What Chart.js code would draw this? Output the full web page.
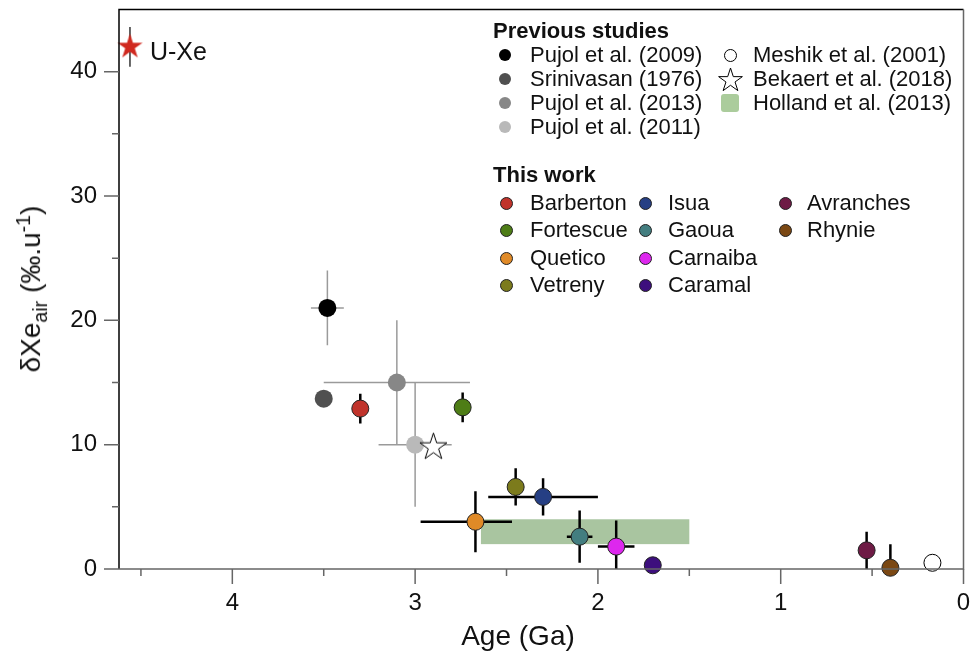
<!DOCTYPE html>
<html>
<head>
<meta charset="utf-8">
<script src="https://cdn.jsdelivr.net/npm/chart.js@4.4.1/dist/chart.umd.min.js"></script>
<style>
    body { margin: 0; background: #fff; }
    #wrap { position: relative; width: 973px; height: 655px; font-family: "Liberation Sans", Arial, sans-serif; color: #111; }
    #chart { position: absolute; left: 0; top: 0; }
    .lg { position: absolute; font-size: 22px; line-height: 26px; white-space: nowrap; }
    .lg.title { font-weight: bold; }
    .mk { position: absolute; box-sizing: border-box; }
    #ytitle { position: absolute; left: 32px; top: 289px; font-size: 28px; white-space: nowrap; transform: translate(-50%, -50%) rotate(-90deg); }
    #ytitle sub, #ytitle sup { font-size: 70%; }
    #xtitle { position: absolute; left: 518px; top: 636px; font-size: 28px; transform: translate(-50%, -50%); white-space: nowrap; }
</style>
</head>
<body>
<div id="wrap">
    <canvas id="chart" width="973" height="655"></canvas>
    <div id="legend"></div>
    <div id="ytitle">δXe<sub>air</sub> (‰.u<sup>-1</sup>)</div>
    <div id="xtitle">Age (Ga)</div>
</div>
<script>
// Axes
const xTicks = [0, 1, 2, 3, 4];
const xMinorTicks = [0.5, 1.5, 2.5, 3.5, 4.5];
const yTicks = [0, 10, 20, 30, 40];
const yMinorTicks = [5, 15, 25, 35];

// Previous studies
const prevNames = ['Pujol et al. (2009)', 'Srinivasan (1976)', 'Pujol et al. (2013)', 'Pujol et al. (2011)'];
const prevAge = [3.48, 3.50, 3.10, 3.00];
const prevDXe = [21.0, 13.7, 15.0, 10.0];
const prevAgeErr = [0.09, 0, 0.40, 0.20];
const prevDXeErr = [3.0, 0, 5.0, 5.0];

const meshikAge = [0.17];
const meshikDXe = [0.5];
const bekaertAge = [2.90];
const bekaertDXe = [9.8];
const hollandAge = [1.50, 2.64];
const hollandDXe = [2.0, 4.0];

const uxeAge = [4.56];
const uxeDXe = [42.0];
const uxeDXeErr = [1.6];

// This work
const workNames = ['Barberton', 'Fortescue', 'Quetico', 'Vetreny', 'Isua', 'Gaoua', 'Carnaiba', 'Caramal', 'Avranches', 'Rhynie'];
const workAge = [3.30, 2.74, 2.67, 2.45, 2.30, 2.10, 1.90, 1.70, 0.53, 0.40];
const workDXe = [12.9, 13.0, 3.8, 6.6, 5.8, 2.6, 1.8, 0.3, 1.5, 0.1];
const workAgeOld = [0, 0, 0.30, 0, 0.30, 0.07, 0.10, 0, 0, 0];
const workAgeYoung = [0, 0, 0.20, 0, 0.30, 0.07, 0.10, 0, 0, 0];
const workDXeErr = [1.2, 1.2, 2.45, 1.5, 1.5, 2.1, 2.1, 0, 1.5, 1.9];

// couleurs
const prevColors = ['#000000', '#505050', '#878787', '#b9b9b9'];
const workColors = ['#c0332b', '#4e7d16', '#e08a27', '#7c7b1c', '#263f84', '#437e80', '#dd27ee', '#3d0f7d', '#6e1b45', '#7b4813'];
const hollandColor = '#a9c5a0';

const FONT = '"Liberation Sans", Arial, sans-serif';
Chart.defaults.font.family = FONT;

function makeStar(R, fill, stroke, lw) {
    const c = document.createElement('canvas');
    c.width = c.height = Math.ceil(2 * R + 4);
    const g = c.getContext('2d');
    const cx = c.width / 2, cy = c.height / 2;
    g.beginPath();
    for (let i = 0; i < 10; i++) {
        const r = i % 2 ? R * 0.382 : R;
        const a = -Math.PI / 2 + i * Math.PI / 5;
        g.lineTo(cx + r * Math.cos(a), cy + r * Math.sin(a));
    }
    g.closePath();
    g.fillStyle = fill;
    g.fill();
    if (stroke) {
        g.strokeStyle = stroke;
        g.lineWidth = lw;
        g.stroke();
    }
    return c;
}

const toPts = (xs, ys) => xs.map((v, i) => ({ x: v, y: ys[i] }));

// Barres d'erreur + rectangle Holland
const errorBars = {
    id: 'errorBars',
    beforeDatasetsDraw(chart) {
        const { ctx, chartArea: a, scales: { x, y } } = chart;
        ctx.save();
        ctx.beginPath();
        ctx.rect(a.left, a.top, a.width, a.height);
        ctx.clip();

        const hx0 = x.getPixelForValue(hollandAge[1]), hx1 = x.getPixelForValue(hollandAge[0]);
        const hy0 = y.getPixelForValue(hollandDXe[1]), hy1 = y.getPixelForValue(hollandDXe[0]);
        ctx.fillStyle = hollandColor;
        ctx.fillRect(hx0, hy0, hx1 - hx0, hy1 - hy0);

        const bar = (age, val, old, young, dv, color, lw) => {
            ctx.strokeStyle = color;
            ctx.lineWidth = lw;
            const px = x.getPixelForValue(age), py = y.getPixelForValue(val);
            ctx.beginPath();
            if (old || young) {
                ctx.moveTo(x.getPixelForValue(age + old), py);
                ctx.lineTo(x.getPixelForValue(age - young), py);
            }
            if (dv) {
                ctx.moveTo(px, y.getPixelForValue(val + dv));
                ctx.lineTo(px, y.getPixelForValue(val - dv));
            }
            ctx.stroke();
        };
        prevAge.forEach((v, i) => bar(v, prevDXe[i], prevAgeErr[i], prevAgeErr[i], prevDXeErr[i], '#9a9a9a', 1.5));
        bar(uxeAge[0], uxeDXe[0], 0, 0, uxeDXeErr[0], '#333', 1.5);
        workAge.forEach((v, i) => bar(v, workDXe[i], workAgeOld[i], workAgeYoung[i], workDXeErr[i], '#000', 2.5));
        ctx.restore();
    }
};

// Cadre, graduations et étiquette U-Xe
const frame = {
    id: 'frame',
    afterDatasetsDraw(chart) {
        const { ctx, chartArea: a, scales: { x, y } } = chart;
        ctx.save();
        ctx.lineWidth = 1.5;
        ctx.strokeStyle = '#000';
        ctx.beginPath();
        ctx.moveTo(a.left, a.bottom);
        ctx.lineTo(a.left, a.top);
        ctx.lineTo(a.right, a.top);
        ctx.stroke();
        ctx.strokeStyle = '#666';
        ctx.beginPath();
        ctx.moveTo(a.left, a.bottom);
        ctx.lineTo(a.right, a.bottom);
        ctx.lineTo(a.right, a.top);
        ctx.stroke();

        ctx.beginPath();
        xTicks.forEach(v => { const px = x.getPixelForValue(v); ctx.moveTo(px, a.bottom); ctx.lineTo(px, a.bottom + 15); });
        xMinorTicks.forEach(v => { const px = x.getPixelForValue(v); ctx.moveTo(px, a.bottom); ctx.lineTo(px, a.bottom + 7); });
        yTicks.forEach(v => { const py = y.getPixelForValue(v); ctx.moveTo(a.left, py); ctx.lineTo(a.left - 15, py); });
        yMinorTicks.forEach(v => { const py = y.getPixelForValue(v); ctx.moveTo(a.left, py); ctx.lineTo(a.left - 7, py); });
        ctx.stroke();

        ctx.fillStyle = '#111';
        ctx.font = '25px ' + FONT;
        ctx.textBaseline = 'middle';
        ctx.fillText('U-Xe', x.getPixelForValue(uxeAge[0]) + 20, y.getPixelForValue(uxeDXe[0]) + 6);
        ctx.restore();
    }
};

const bekaertStar = makeStar(14.2, '#fff', '#000', 1);
const uxeStar = makeStar(13.2, '#d0291f');

new Chart(document.getElementById('chart'), {
    type: 'scatter',
    data: {
        datasets: [
            { label: 'U-Xe', data: toPts(uxeAge, uxeDXe), pointStyle: uxeStar, clip: false },
            { label: 'Bekaert et al. (2018)', data: toPts(bekaertAge, bekaertDXe), pointStyle: bekaertStar, clip: false },
            { label: 'Meshik et al. (2001)', data: toPts(meshikAge, meshikDXe), pointRadius: 8.5, backgroundColor: '#fff', borderColor: '#000', borderWidth: 1, clip: false },
            { label: 'Previous studies', data: toPts(prevAge, prevDXe), pointRadius: 9, backgroundColor: prevColors, borderWidth: 0, clip: false },
            { label: 'This work', data: toPts(workAge, workDXe), pointRadius: 8.5, backgroundColor: workColors, borderColor: '#222', borderWidth: 1, clip: false }
        ]
    },
    options: {
        responsive: false,
        animation: false,
        events: [],
        layout: { padding: { top: 8, right: 8, left: 0, bottom: 0 } },
        plugins: { legend: { display: false }, tooltip: { enabled: false } },
        scales: {
            x: {
                type: 'linear',
                min: 0,
                max: 4.62,
                reverse: true,
                grid: { display: false, drawTicks: false },
                border: { display: false },
                afterBuildTicks: s => { s.ticks = xTicks.map(v => ({ value: v })); },
                afterFit: s => { s.height = 86; s.paddingLeft = 0; s.paddingRight = 0; },
                ticks: { font: { size: 24 }, color: '#111', padding: 20, maxRotation: 0 }
            },
            y: {
                type: 'linear',
                min: 0,
                max: 45,
                grid: { display: false, drawTicks: false },
                border: { display: false },
                afterBuildTicks: s => { s.ticks = yTicks.map(v => ({ value: v })); },
                afterFit: s => { s.width = 119; s.paddingTop = 0; s.paddingBottom = 0; },
                ticks: { font: { size: 24 }, color: '#111', padding: 22 }
            }
        }
    },
    plugins: [errorBars, frame]
});

// Légende
const legend = document.getElementById('legend');
function addText(txt, left, cy, cls) {
    const d = document.createElement('div');
    d.className = 'lg' + (cls ? ' ' + cls : '');
    d.textContent = txt;
    d.style.left = left + 'px';
    d.style.top = (cy - 13) + 'px';
    legend.appendChild(d);
}
function addDot(cx, cy, size, fill, border) {
    const d = document.createElement('div');
    d.className = 'mk';
    d.style.left = (cx - size / 2) + 'px';
    d.style.top = (cy - size / 2) + 'px';
    d.style.width = size + 'px';
    d.style.height = size + 'px';
    d.style.borderRadius = '50%';
    d.style.background = fill;
    if (border) d.style.border = '1px solid ' + border;
    legend.appendChild(d);
}

addText('Previous studies', 493, 31, 'title');
const prevRows = [55, 79, 103, 127];
prevNames.forEach((n, i) => {
    addDot(505, prevRows[i], 12, prevColors[i]);
    addText(n, 530, prevRows[i]);
});
addDot(730, prevRows[0], 13, '#fff', '#000');
addText('Meshik et al. (2001)', 753, prevRows[0]);
const ls = makeStar(12.5, '#fff', '#000', 1);
ls.className = 'mk';
ls.style.left = (730 - ls.width / 2) + 'px';
ls.style.top = (prevRows[1] + 1 - ls.height / 2) + 'px';
legend.appendChild(ls);
addText('Bekaert et al. (2018)', 753, prevRows[1]);
const sq = document.createElement('div');
sq.className = 'mk';
Object.assign(sq.style, { left: '721px', top: (prevRows[2] - 9) + 'px', width: '18px', height: '18px', borderRadius: '3px', background: '#abcc9c' });
legend.appendChild(sq);
addText('Holland et al. (2013)', 753, prevRows[2]);

addText('This work', 493, 175, 'title');
const workRows = [203, 230, 258, 285];
const workCols = [[506, 530], [645, 668], [785, 807]];
workNames.forEach((n, i) => {
    const col = i < 4 ? 0 : i < 8 ? 1 : 2;
    const row = i < 4 ? i : i < 8 ? i - 4 : i - 8;
    addDot(workCols[col][0], workRows[row], 13, workColors[i], '#222');
    addText(n, workCols[col][1], workRows[row]);
});
</script>
</body>
</html>
